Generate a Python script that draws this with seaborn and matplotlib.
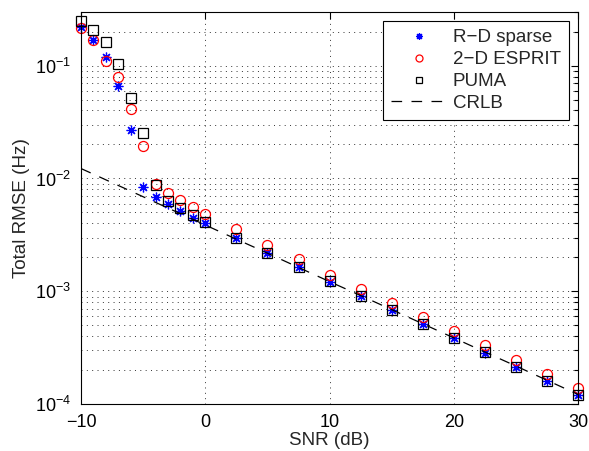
import numpy as np
import pandas as pd
import matplotlib
matplotlib.use('Agg')
import matplotlib.pyplot as plt
from matplotlib.ticker import LogLocator, NullLocator, NullFormatter
import seaborn as sns

# SNR points (dB)
snr = [-10, -9, -8, -7, -6, -5, -4, -3, -2, -1, 0,
       2.5, 5, 7.5, 10, 12.5, 15, 17.5, 20, 22.5, 25, 27.5, 30]

# total RMSE (Hz)
rd_sparse = [0.220, 0.170, 0.118, 0.066, 0.0267, 0.0084, 0.0069, 0.0060, 0.0052, 0.0045, 0.0040,
             0.00300, 0.00220, 0.00163, 0.00122, 0.000910, 0.000682, 0.000510, 0.000383,
             0.000287, 0.000214, 0.000160, 0.000120]
esprit = [0.217, 0.170, 0.110, 0.080, 0.041, 0.0195, 0.0089, 0.0075, 0.0064, 0.00557, 0.00486,
          0.00354, 0.00257, 0.00192, 0.00141, 0.00105, 0.000792, 0.000593, 0.000443,
          0.000333, 0.000248, 0.000185, 0.000139]
puma = [0.247, 0.208, 0.162, 0.103, 0.0514, 0.0255, 0.0087, 0.00634, 0.00543, 0.00471, 0.0041,
        0.00300, 0.00221, 0.00164, 0.00123, 0.000914, 0.000684, 0.000511, 0.000384,
        0.000288, 0.000215, 0.000161, 0.000121]
crlb = [0.01225, 0.01092, 0.00973, 0.00867, 0.00773, 0.00689, 0.00614, 0.00547, 0.00488, 0.00435,
        0.00387, 0.00290, 0.00218, 0.00163, 0.00122, 0.000918, 0.000689, 0.000516, 0.000387,
        0.000290, 0.000218, 0.000163, 0.000122]

labels = ['R\u2212D sparse', '2\u2212D ESPRIT', 'PUMA', 'CRLB']

df = pd.DataFrame({'snr': snr, 'rd': rd_sparse, 'esprit': esprit, 'puma': puma, 'crlb': crlb})

sns.set_theme(style='white')
plt.rcParams['font.family'] = ['Liberation Sans', 'DejaVu Sans']
plt.rcParams['mathtext.default'] = 'regular'
plt.rcParams['font.size'] = 13
plt.rcParams['axes.linewidth'] = 0.8
plt.rcParams['axes.edgecolor'] = 'black'

fig = plt.figure(figsize=(5.89, 4.51), dpi=100)
ax = fig.add_axes([0.1375, 0.1035, 0.8443, 0.8706])

sns.lineplot(data=df, x='snr', y='rd', ax=ax, linestyle='', marker=(8, 2, 0),
             markersize=7, color='blue', markeredgecolor='blue', markeredgewidth=0.9,
             label=labels[0], clip_on=False)
sns.lineplot(data=df, x='snr', y='esprit', ax=ax, linestyle='', marker='o',
             markersize=7.2, color='red', markerfacecolor='none', markeredgecolor='red',
             markeredgewidth=0.9, label=labels[1], clip_on=False)
sns.lineplot(data=df, x='snr', y='puma', ax=ax, linestyle='', marker='s',
             markersize=6.5, color='black', markerfacecolor='none', markeredgecolor='black',
             markeredgewidth=0.9, label=labels[2], clip_on=False)
sns.lineplot(data=df, x='snr', y='crlb', ax=ax, color='black', linewidth=0.9,
             linestyle=(0, (8.5, 7.5)), label=labels[3])

ax.set_yscale('log')
ax.set_xlim(-10, 30)
ax.set_ylim(1e-4, 0.3)
ax.set_xticks([-10, 0, 10, 20, 30])
ax.xaxis.set_minor_locator(NullLocator())
ax.yaxis.set_major_locator(LogLocator(base=10, numticks=10))
ax.yaxis.set_minor_locator(LogLocator(base=10, subs=np.arange(2, 10), numticks=20))
ax.yaxis.set_minor_formatter(NullFormatter())

ax.set_axisbelow(True)
ax.grid(True, which='major', axis='both', color='0.2', linestyle=(0, (1, 4.5)), linewidth=0.7)
ax.grid(True, which='minor', axis='y', color='0.2', linestyle=(0, (1, 4.5)), linewidth=0.7)

ax.tick_params(which='both', direction='in', top=True, right=True, colors='black',
               labelsize=13, width=0.8)
ax.tick_params(which='major', length=5, pad=7)
ax.tick_params(which='minor', length=3)
for s in ax.spines.values():
    s.set_visible(True)
    s.set_color('black')

ax.set_xlabel('SNR (dB)', fontsize=13.6, labelpad=1)
ax.set_ylabel('Total RMSE (Hz)', fontsize=13.6, labelpad=4)

leg = ax.legend(loc='upper right', bbox_to_anchor=(0.981, 0.975), borderaxespad=0,
                fontsize=13.5, frameon=True, fancybox=False, framealpha=1,
                edgecolor='black', handlelength=3.0, handletextpad=0.3,
                labelspacing=0.25, markerscale=0.7, borderpad=0.42)
leg.get_frame().set_linewidth(0.8)
leg.set_zorder(5)

fig.savefig('out.png', dpi=100)
